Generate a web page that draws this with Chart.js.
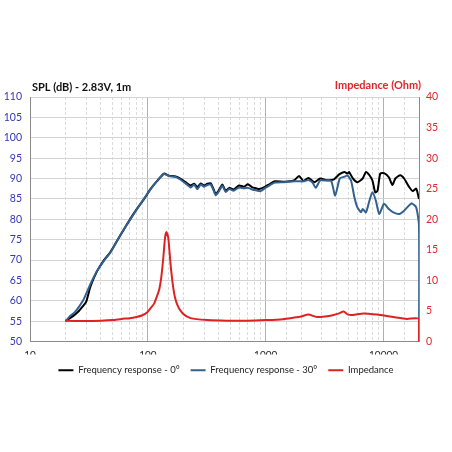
<!DOCTYPE html>
<html>
<head>
<meta charset="utf-8">
<script src="https://cdn.jsdelivr.net/npm/chart.js@4.4.1/dist/chart.umd.min.js"></script>
<style>
  html, body { margin: 0; padding: 0; background: #fff; }
  #wrap { width: 452px; height: 452px; }
</style>
</head>
<body>
<div id="wrap"><canvas id="myChart" width="452" height="452"></canvas></div>
<script>
// Frequency response 0 deg (black)
const freq0 = [20, 22, 24, 26, 28, 30, 32.6, 37, 42, 48, 55, 63, 71, 81, 93, 106, 120, 137, 151, 172,
  190, 209, 231, 247, 263, 281, 300, 320, 342, 360, 377, 402, 429, 458, 490, 536, 592, 655, 706, 770,
  824, 880, 994, 1090, 1200, 1440, 1730, 1920, 2090, 2300, 2600, 2900, 3300, 3800, 4200, 4650, 4950,
  5100, 5500, 6000, 6650, 7100, 7600, 8050, 8500, 8900, 9370, 10100, 11100, 11900, 12600, 13880,
  14950, 16500, 17700, 18930, 20000];
const spl0 = [55.0, 55.8, 56.6, 57.5, 58.6, 59.8, 63.5, 67.2, 69.8, 71.9, 74.8, 77.6, 80.1, 82.6, 85.0, 87.5, 89.4, 91.2, 90.7, 90.5,
  89.9, 89.1, 88.3, 88.7, 87.9, 88.8, 88.3, 88.7, 88.8, 87.5, 86.2, 87.2, 88.5, 87.0, 87.7, 87.3, 88.3, 88.0, 88.6, 87.8,
  87.6, 87.4, 88.0, 88.7, 89.3, 89.2, 89.5, 90.6, 89.4, 90.1, 89.1, 90.0, 89.6, 89.8, 91.0, 91.6, 91.2,
  91.6, 90.0, 89.1, 90.0, 91.6, 90.8, 89.5, 86.6, 87.0, 91.2, 91.3, 90.3, 88.4, 90.0, 90.8,
  90.0, 87.9, 86.9, 87.5, 85.0];

// Frequency response 30 deg (blue)
const freq30 = [20, 22, 24, 26, 28.6, 32.6, 37.2, 42.4, 48.3, 55, 62.7, 71.4, 81.3, 92.6, 105.6, 120, 137, 151, 172,
  190, 209, 231, 247, 263, 281, 300, 320, 342, 360, 377, 402, 429, 458, 490, 536, 592, 655, 706, 770,
  824, 904, 994, 1090, 1200, 1440, 1730, 1920, 2090, 2300, 2500, 2660, 2900, 3300, 3600, 3890, 4250,
  4600, 4950, 5300, 5660, 6000, 6450, 6650, 7100, 7600, 8050, 8600, 9200, 10100, 11100, 12100, 13600,
  14950, 16500, 17400, 18930, 20000, 20000];
const spl30 = [55.0, 56.3, 57.2, 58.5, 60.4, 64.1, 67.4, 69.8, 71.9, 74.8, 77.6, 80.1, 82.6, 85.0, 87.4, 89.4, 91.1, 90.6, 90.4,
  89.7, 88.8, 87.8, 88.5, 87.4, 88.5, 88.0, 88.4, 88.5, 87.2, 85.9, 86.9, 88.2, 86.7, 87.4, 87.0, 87.8, 87.6, 87.7, 87.3,
  87.1, 86.9, 87.7, 88.4, 89.0, 89.1, 89.3, 89.3, 89.3, 89.6, 89.0, 87.7, 89.5, 89.5, 89.4, 85.8, 90.0,
  90.4, 90.7, 89.5, 85.4, 82.9, 81.7, 82.5, 81.7, 84.6, 86.6, 84.6, 81.3, 83.8, 82.5, 81.7, 81.3,
  82.1, 83.4, 83.9, 82.9, 78.5, 45];

// Impedance (red, right axis)
const freqZ = [20, 30, 40, 50, 60, 70, 80, 90, 99, 106, 113, 120, 125, 130, 135, 140, 144, 149, 153, 157,
  164, 170, 178, 190, 203, 225, 250, 320, 467, 700, 1000, 1400, 1722, 2000, 2305, 2716, 3200, 3700,
  4200, 4580, 5000, 5500, 6770, 8785, 12180, 15800, 20000, 20000];
const impedance = [3.4, 3.35, 3.4, 3.5, 3.7, 3.8, 4.0, 4.3, 4.8, 5.5, 6.2, 7.5, 8.5, 10.5, 13.5, 17.0, 17.9, 17.0, 14.5, 12.0,
  8.9, 7.2, 6.0, 5.0, 4.4, 3.9, 3.7, 3.5, 3.4, 3.4, 3.5, 3.65, 3.9, 4.1, 4.4, 4.0, 4.1, 4.3,
  4.6, 4.9, 4.4, 4.35, 4.6, 4.4, 4.0, 3.7, 3.7, 0];

const xTickLabels = [10, 100, 1000, 10000];

const toPoints = (xs, ys) => xs.map((x, i) => ({ x: x, y: ys[i] }));
const isDecade = (v) => xTickLabels.includes(v);
const FONT = 'Lato, "DejaVu Sans", sans-serif';

// Axis headings drawn above the plot area
const axisTitles = {
  id: 'axisTitles',
  afterDraw(chart) {
    const { ctx, chartArea } = chart;
    ctx.save();
    ctx.font = 'bold 11px ' + FONT;
    ctx.textBaseline = 'alphabetic';
    ctx.textAlign = 'left';
    ctx.fillStyle = '#111';
    ctx.fillText('SPL (dB) - 2.83V, 1m', chartArea.left + 2, chartArea.top - 6);
    ctx.textAlign = 'right';
    ctx.fillStyle = '#e0262b';
    ctx.fillText('Impedance (Ohm)', chartArea.right + 2, chartArea.top - 8);
    ctx.restore();
  }
};

const ctx = document.getElementById('myChart').getContext('2d');
const chart = new Chart(ctx, {
  type: 'line',
  data: {
    datasets: [{
      label: 'Frequency response - 0°',
      data: toPoints(freq0, spl0),
      borderColor: '#000000',
      backgroundColor: '#000000',
      borderWidth: 2,
      yAxisID: 'y',
      order: 2
    }, {
      label: 'Frequency response - 30°',
      data: toPoints(freq30, spl30),
      borderColor: '#33618f',
      backgroundColor: '#33618f',
      borderWidth: 2,
      yAxisID: 'y',
      order: 1
    }, {
      label: 'Impedance',
      data: toPoints(freqZ, impedance),
      borderColor: '#de2222',
      backgroundColor: '#de2222',
      borderWidth: 2,
      yAxisID: 'y1',
      order: 0
    }]
  },
  options: {
    responsive: false,
    animation: false,
    parsing: false,
    elements: {
      point: { radius: 0 },
      line: { tension: 0.2 }
    },
    layout: { padding: { left: 0, right: 0, top: 97, bottom: 67 } },
    plugins: {
      tooltip: { enabled: false },
      legend: {
        position: 'bottom',
        labels: {
          usePointStyle: true,
          pointStyle: 'line',
          pointStyleWidth: 15,
          padding: 11,
          color: '#222',
          font: { family: FONT, size: 9.5 },
          sort: (a, b) => a.datasetIndex - b.datasetIndex
        }
      }
    },
    scales: {
      x: {
        type: 'logarithmic',
        min: 10,
        max: 20000,
        afterFit: (scale) => { scale.height = 13; },
        grid: {
          drawTicks: false,
          color: (c) => (c.tick && isDecade(c.tick.value)) ? '#b0b0b0' : '#dcdcdc',
          lineWidth: 1
        },
        border: {
          color: '#8a8a8a',
          width: 1,
          dash: (c) => (c.tick && !isDecade(c.tick.value)) ? [3, 2] : []
        },
        ticks: {
          autoSkip: false,
          maxRotation: 0,
          padding: 7,
          color: '#222',
          font: { family: FONT, size: 10 },
          callback: (v) => isDecade(v) ? String(v) : ''
        }
      },
      y: {
        position: 'left',
        min: 50,
        max: 110,
        afterFit: (scale) => { scale.width = 30; },
        grid: { drawTicks: false, color: '#d4d4d4' },
        border: { color: '#8a8a8a' },
        ticks: {
          stepSize: 5,
          padding: 8,
          color: '#3535b8',
          font: { family: FONT, size: 10.5 }
        }
      },
      y1: {
        position: 'right',
        min: 0,
        max: 40,
        afterFit: (scale) => { scale.width = 33; },
        grid: { drawOnChartArea: false, drawTicks: false },
        border: { color: '#8a8a8a' },
        ticks: {
          stepSize: 5,
          padding: 7,
          color: '#e0262b',
          font: { family: FONT, size: 10.5 }
        }
      }
    }
  },
  plugins: [axisTitles]
});
</script>
</body>
</html>
